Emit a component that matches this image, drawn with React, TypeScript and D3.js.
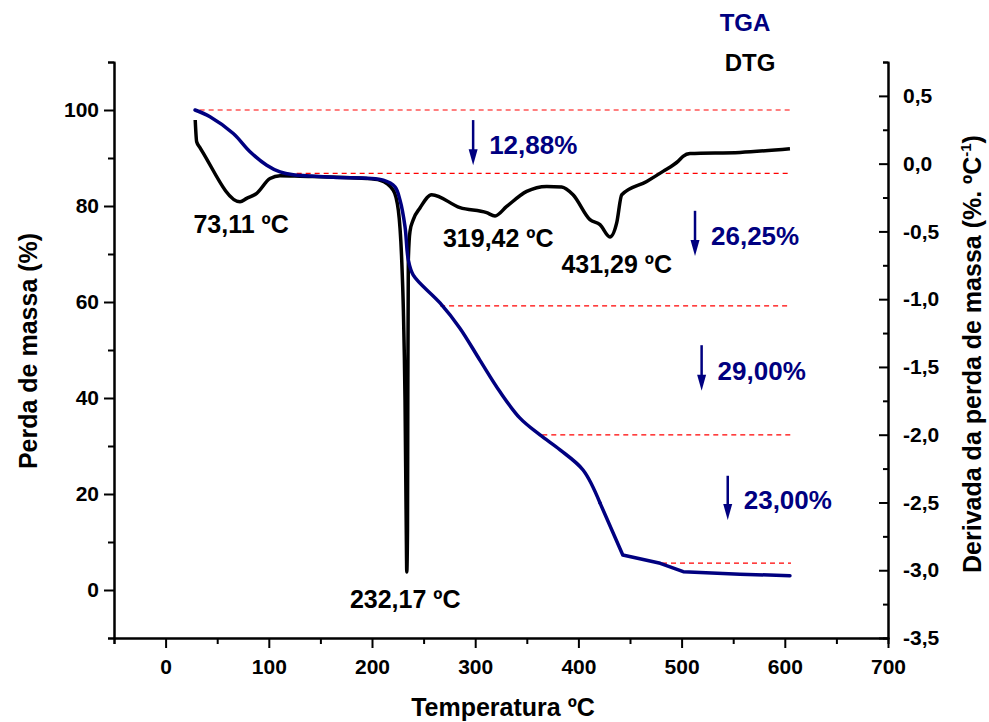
import { useEffect, useRef } from 'react'
import * as d3 from 'd3'

// TGA curve: temperature (ºC) and residual mass (%)
const tgaTemp = [28.5, 43, 65.6, 81.8, 98, 110.9, 123.7, 162.5, 211, 222.3, 227.1, 232, 235.2, 240, 265.9, 285, 304.5, 324, 343.4, 362.8, 382.2, 404.5, 421, 443, 479.3, 501.6, 556.5, 605]
const tgaMass = [100, 98.6, 95.1, 91.3, 88.5, 87.1, 86.5, 86.0, 85.4, 84.0, 81.25, 75.7, 68.75, 65.6, 59.8, 54.6, 47.9, 41.3, 35.8, 32.3, 29.2, 25.0, 18.1, 7.3, 5.56, 3.81, 3.3, 2.98]
// above this temperature the recorded curve runs in straight segments
const tgaKinkTemp = 421

// DTG curve: temperature (ºC) and derivative (%.ºC-1)
const dtgTemp = [28.7, 30.1, 33.3, 36.2, 72.1, 78.6, 88.3, 101.2, 110.9, 130.2, 194.9, 207.8, 220.6, 225.5, 228.8, 230.4, 232.0, 233.2, 233.7, 234.4, 234.7, 235.2, 236.8, 240, 246.5, 257.8, 285.3, 311.1, 319.2, 330.5, 349.9, 369.3, 383.8, 394.8, 411.2, 420.9, 430.6, 437.1, 442, 466.2, 482, 496.5, 501.4, 508.1, 556.6, 605]
const dtgValue = [0.322, 0.162, 0.119, 0.082, -0.281, -0.256, -0.219, -0.11, -0.09, -0.093, -0.11, -0.122, -0.196, -0.343, -0.712, -1.08, -1.744, -2.70, -3.013, -2.70, -1.744, -0.712, -0.5, -0.413, -0.327, -0.229, -0.325, -0.362, -0.386, -0.316, -0.205, -0.168, -0.172, -0.229, -0.413, -0.45, -0.541, -0.437, -0.229, -0.131, -0.057, 0.017, 0.054, 0.074, 0.083, 0.11]

// DTG peaks
const peakTemp = [73.11, 232.17, 319.42, 431.29]
const peakDtg = [-0.281, -3.013, -0.386, -0.541]
const peakText = ['73,11 ºC', '232,17 ºC', '319,42 ºC', '431,29 ºC']

// mass loss steps: dashed reference levels (%) and where they start (ºC)
const levelMass = [100, 86.8, 59.2, 32.3, 5.6]
const levelStart = [33, 127, 266, 365, 481]
const levelEnd = 606

// step arrows
const stepText = ['12,88%', '26,25%', '29,00%', '23,00%']
const stepTemp = [298, 513, 519.4, 544.7]
const stepTop = [97.9, 79.0, 51.0, 23.8]
const stepBottom = [88.5, 69.6, 41.5, 14.6]

const xTicks = [0, 100, 200, 300, 400, 500, 600, 700]
const leftTicks = [0, 20, 40, 60, 80, 100]
const rightTicks = [-3.5, -3, -2.5, -2, -1.5, -1, -0.5, 0, 0.5]

const W = 989
const H = 722
const NAVY = '#000080'
const FONT = "'Liberation Sans', Arial, Helvetica, sans-serif"

const locale = d3.formatLocale({ decimal: ',', thousands: '.', grouping: [3], currency: ['', ''], minus: '-' })
const fmt1 = locale.format('.1f')

export default function App() {
  const ref = useRef<SVGSVGElement>(null)

  useEffect(() => {
    const svg = d3.select(ref.current)
    svg.selectAll('*').remove()

    const x = d3.scaleLinear().domain([-50, 700]).range([114, 888])
    const yL = d3.scaleLinear().domain([-10, 110]).range([638, 62])
    const yR = d3.scaleLinear().domain([-3.5, 0.75]).range([638, 62])

    const styleAxis = (g) => {
      g.selectAll('path').attr('stroke', '#000').attr('stroke-width', 2)
      g.selectAll('line').attr('stroke', '#000').attr('stroke-width', 2)
      g.selectAll('text').attr('font-family', FONT).attr('font-weight', 'bold').attr('font-size', 21).attr('fill', '#000')
    }

    // minor ticks first
    svg.append('g').attr('transform', 'translate(0,638)')
      .call(d3.axisBottom(x).tickValues(d3.range(-50, 700, 100)).tickSize(6).tickFormat(() => ''))
      .call(styleAxis)
    svg.append('g').attr('transform', 'translate(114,0)')
      .call(d3.axisLeft(yL).tickValues(d3.range(-10, 111, 20)).tickSize(6).tickFormat(() => ''))
      .call(styleAxis)
    svg.append('g').attr('transform', 'translate(888,0)')
      .call(d3.axisRight(yR).tickValues(d3.range(-3.25, 0.76, 0.5)).tickSize(-5).tickFormat(() => ''))
      .call(styleAxis)

    svg.append('g').attr('transform', 'translate(0,638)')
      .call(d3.axisBottom(x).tickValues(xTicks).tickSize(10).tickPadding(11).tickSizeOuter(0))
      .call(styleAxis)
    svg.append('g').attr('transform', 'translate(114,0)')
      .call(d3.axisLeft(yL).tickValues(leftTicks).tickSize(10).tickPadding(5).tickSizeOuter(0))
      .call(styleAxis)
    svg.append('g').attr('transform', 'translate(888,0)')
      .call(d3.axisRight(yR).tickValues(rightTicks).tickSize(-9).tickPadding(15).tickSizeOuter(0).tickFormat(fmt1))
      .call(styleAxis)

    // dashed levels
    svg.append('g').selectAll('line').data(levelMass).join('line')
      .attr('x1', (d, i) => x(levelStart[i])).attr('x2', x(levelEnd))
      .attr('y1', d => yL(d)).attr('y2', d => yL(d))
      .attr('stroke', '#ff0000').attr('stroke-width', 1.2).attr('stroke-dasharray', '5,4')

    const dtgLine = d3.line<number>()
      .x((d, i) => x(dtgTemp[i])).y(d => yR(d))
      .curve(d3.curveMonotoneX)
    svg.append('path').attr('d', dtgLine(dtgValue))
      .attr('fill', 'none').attr('stroke', '#000').attr('stroke-width', 3.5).attr('stroke-linejoin', 'round')

    // TGA: smooth part, then straight segments
    const tga = tgaTemp.map((t, i) => [t, tgaMass[i]] as [number, number])
    const smooth = tga.filter(d => d[0] <= tgaKinkTemp)
    const straight = tga.filter(d => d[0] >= tgaKinkTemp)
    const tgaSmooth = d3.line<[number, number]>().x(d => x(d[0])).y(d => yL(d[1])).curve(d3.curveCatmullRom.alpha(0.5))
    const tgaStraight = d3.line<[number, number]>().x(d => x(d[0])).y(d => yL(d[1]))
    const tg = svg.append('g').attr('fill', 'none').attr('stroke', NAVY).attr('stroke-width', 3.5)
      .attr('stroke-linejoin', 'round').attr('stroke-linecap', 'round')
    tg.append('path').attr('d', tgaSmooth(smooth))
    tg.append('path').attr('d', tgaStraight(straight))

    // peak labels
    svg.append('g').selectAll('text').data(peakText).join('text')
      .attr('x', (d, i) => x(peakTemp[i]) + [0, 0, 3, 6][i])
      .attr('y', (d, i) => yR(peakDtg[i]) + [31, 36, 31, 36][i])
      .attr('text-anchor', 'middle')
      .attr('font-family', FONT).attr('font-weight', 'bold').attr('font-size', 25)
      .text(d => d)

    // arrows
    const arrows = svg.append('g')
    stepText.forEach((t, i) => {
      const ax = x(stepTemp[i])
      const y0 = yL(stepTop[i])
      const y1 = yL(stepBottom[i])
      arrows.append('line').attr('x1', ax).attr('x2', ax).attr('y1', y0).attr('y2', y1 - 12)
        .attr('stroke', NAVY).attr('stroke-width', 2.5)
      arrows.append('path')
        .attr('d', `M${ax - 4.5},${y1 - 16} L${ax + 4.5},${y1 - 16} L${ax},${y1} Z`)
        .attr('fill', NAVY)
      arrows.append('text').attr('x', ax + 16).attr('y', y1 - 11)
        .attr('font-family', FONT).attr('font-weight', 'bold').attr('font-size', 26).attr('fill', NAVY)
        .text(t)
    })

    // legend
    svg.append('text').attr('x', 745).attr('y', 31).attr('text-anchor', 'middle')
      .attr('font-family', FONT).attr('font-weight', 'bold').attr('font-size', 24).attr('fill', NAVY).text('TGA')
    svg.append('text').attr('x', 750).attr('y', 71).attr('text-anchor', 'middle')
      .attr('font-family', FONT).attr('font-weight', 'bold').attr('font-size', 24).attr('fill', '#000').text('DTG')

    // axis titles
    svg.append('text').attr('x', 503).attr('y', 716).attr('text-anchor', 'middle')
      .attr('font-family', FONT).attr('font-weight', 'bold').attr('font-size', 25).text('Temperatura ºC')
    svg.append('text').attr('transform', 'translate(37,351) rotate(-90)').attr('text-anchor', 'middle')
      .attr('font-family', FONT).attr('font-weight', 'bold').attr('font-size', 25).text('Perda de massa (%)')
    const rt = svg.append('text').attr('transform', 'translate(981,354) rotate(-90)').attr('text-anchor', 'middle')
      .attr('font-family', FONT).attr('font-weight', 'bold').attr('font-size', 25)
    rt.append('tspan').text('Derivada da perda de massa (%. ºC')
    rt.append('tspan').attr('dy', -10).attr('font-size', 15).text('-1')
    rt.append('tspan').attr('dy', 10).text(')')
  }, [])

  return <svg ref={ref} width={W} height={H} style={{ position: 'absolute', left: 0, top: 0, background: '#fff' }} />
}
